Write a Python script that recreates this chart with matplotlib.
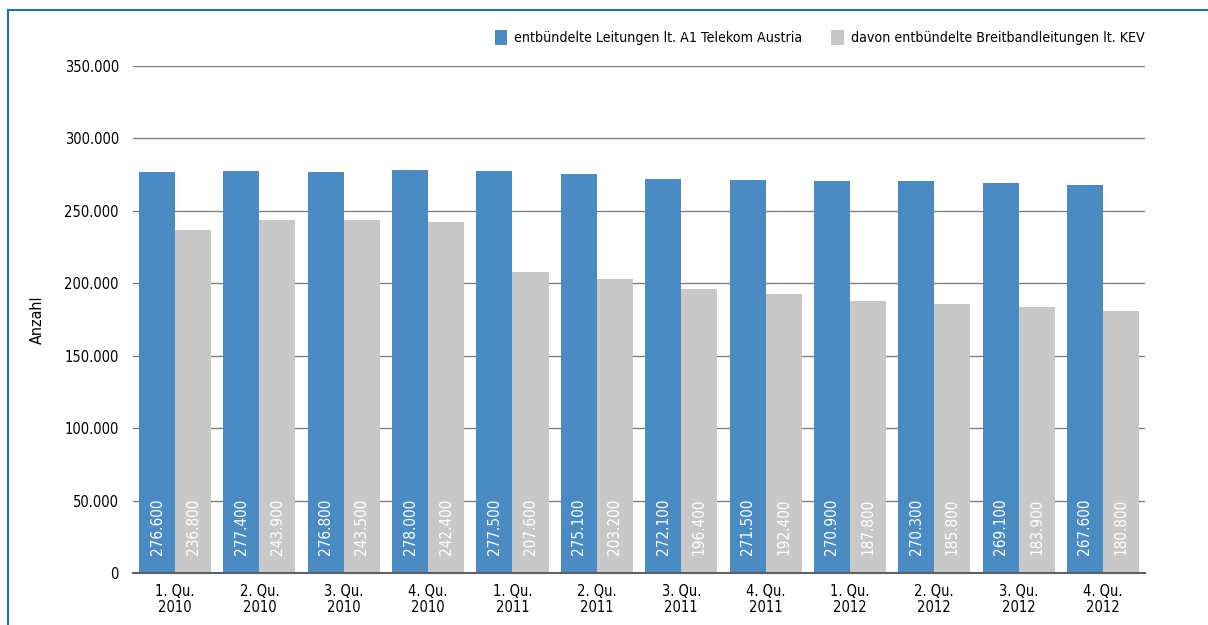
import matplotlib.pyplot as plt
import numpy as np
from matplotlib.ticker import FuncFormatter
from matplotlib import font_manager

# try a narrow face if one is around, otherwise condensed DejaVu
names = {f.name for f in font_manager.fontManager.ttflist}
narrow = [n for n in ['Liberation Sans Narrow', 'DejaVu Sans Condensed'] if n in names]
plt.rcParams['font.family'] = narrow + ['DejaVu Sans']
plt.rcParams['font.stretch'] = 'condensed'

# quarters shown on the x axis
quarters = ['1. Qu.\n2010', '2. Qu.\n2010', '3. Qu.\n2010', '4. Qu.\n2010',
            '1. Qu.\n2011', '2. Qu.\n2011', '3. Qu.\n2011', '4. Qu.\n2011',
            '1. Qu.\n2012', '2. Qu.\n2012', '3. Qu.\n2012', '4. Qu.\n2012']
a1_lines = [276600, 277400, 276800, 278000, 277500, 275100,
            272100, 271500, 270900, 270300, 269100, 267600]
kev_lines = [236800, 243900, 243500, 242400, 207600, 203200,
             196400, 192400, 187800, 185800, 183900, 180800]
series_names = ['entbündelte Leitungen lt. A1 Telekom Austria',
                'davon entbündelte Breitbandleitungen lt. KEV']

blue = '#4a8bc4'
grey = '#c8c8c8'

fig = plt.figure(figsize=(12.08, 6.25), dpi=100)
ax = fig.add_axes([0.110, 0.0832, 0.838, 0.8112])

x = np.arange(len(quarters))
w = 0.427
b1 = ax.bar(x - w/2, a1_lines, w, color=blue, label=series_names[0], zorder=2)
b2 = ax.bar(x + w/2, kev_lines, w, color=grey, label=series_names[1], zorder=2)

def fmt(v):
    return f'{int(v):,}'.replace(',', '.')

for bars, vals in [(b1, a1_lines), (b2, kev_lines)]:
    for r, v in zip(bars, vals):
        ax.text(r.get_x() + r.get_width()/2, 12500, fmt(v), rotation=90,
                ha='center', va='bottom', color='white', fontsize=11, zorder=3)

ax.set_xlim(-0.5, len(quarters) - 0.5)
ax.set_ylim(0, 350000)
ax.set_yticks(np.arange(0, 350001, 50000))
ax.yaxis.set_major_formatter(FuncFormatter(lambda v, p: fmt(v)))
ax.set_xticks(x)
ax.set_xticklabels(quarters, fontsize=10.5, linespacing=1.1)
ax.tick_params(axis='y', labelsize=10.5, length=0, pad=10)
ax.tick_params(axis='x', length=0, pad=8)
ax.grid(axis='y', color='#808080', lw=1, zorder=0)
for s in ['top', 'right', 'left']:
    ax.spines[s].set_visible(False)
ax.spines['bottom'].set_color('#606060')
ax.spines['bottom'].set_linewidth(1.5)
ax.set_ylabel('Anzahl', fontsize=11.5)
ax.yaxis.set_label_coords(-0.087, 0.5)

fig.legend(loc='upper right', bbox_to_anchor=(0.958, 0.972), ncol=2, frameon=False,
           fontsize=10.2, handlelength=0.9, handleheight=1.2, columnspacing=2.0,
           handletextpad=0.5)

# blue frame around the chart
fig.add_artist(plt.Line2D([8/1208, 8/1208], [0, 1 - 10/625], color='#1a6fc0', lw=1.5))
fig.add_artist(plt.Line2D([8/1208, 1], [1 - 10/625, 1 - 10/625], color='#1a6fc0', lw=1.5))

fig.savefig('out.png', dpi=100)
